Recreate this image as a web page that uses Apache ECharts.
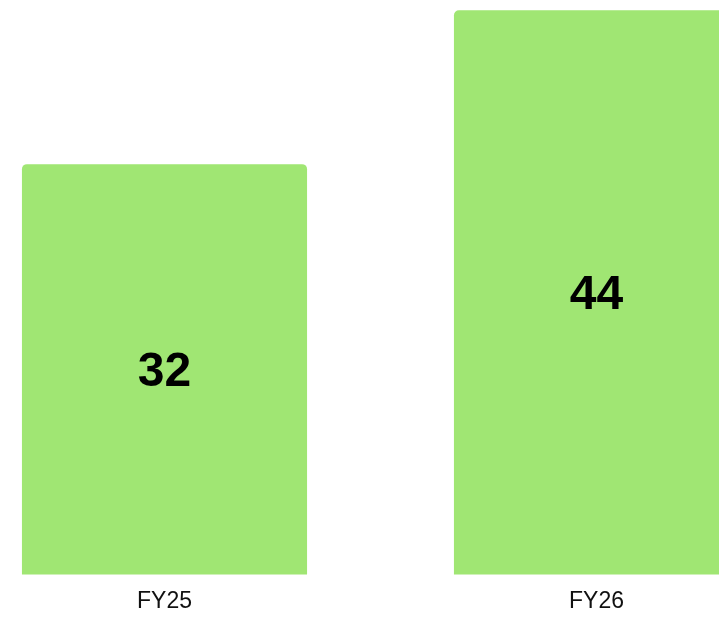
<!DOCTYPE html>
<html>
<head>
<meta charset="utf-8">
<script src="https://cdn.jsdelivr.net/npm/echarts@6/dist/echarts.min.js"></script>
<style>
html,body{margin:0;padding:0;background:#fff;}
#c{width:719px;height:623px;}
</style>
</head>
<body>
<div id="c"></div>
<script>
const categories = ['FY25', 'FY26'];
const values = [32, 44];

const chart = echarts.init(document.getElementById('c'), null, {renderer: 'canvas'});
chart.setOption({
  animation: false,
  grid: {left: -51.5, width: 864, top: 0, bottom: 48.5, containLabel: false, outerBoundsMode: 'none'},
  xAxis: {
    type: 'category',
    data: categories,
    axisLine: {show: false},
    axisTick: {show: false},
    axisLabel: {
      color: '#111',
      fontFamily: 'Liberation Sans, Arial, sans-serif',
      fontSize: 23,
      margin: 16
    }
  },
  yAxis: {
    type: 'value',
    min: 0,
    max: 44.8,
    show: false,
    splitLine: {show: false}
  },
  series: [{
    type: 'bar',
    data: values,
    barWidth: '66%',
    itemStyle: {color: '#a0e673', borderRadius: [5, 5, 0, 0]},
    label: {
      show: true,
      position: 'inside',
      offset: [0, 3],
      color: '#000',
      fontFamily: 'Liberation Sans, Arial, sans-serif',
      fontWeight: 'bold',
      fontSize: 48
    }
  }]
});
</script>
</body>
</html>
